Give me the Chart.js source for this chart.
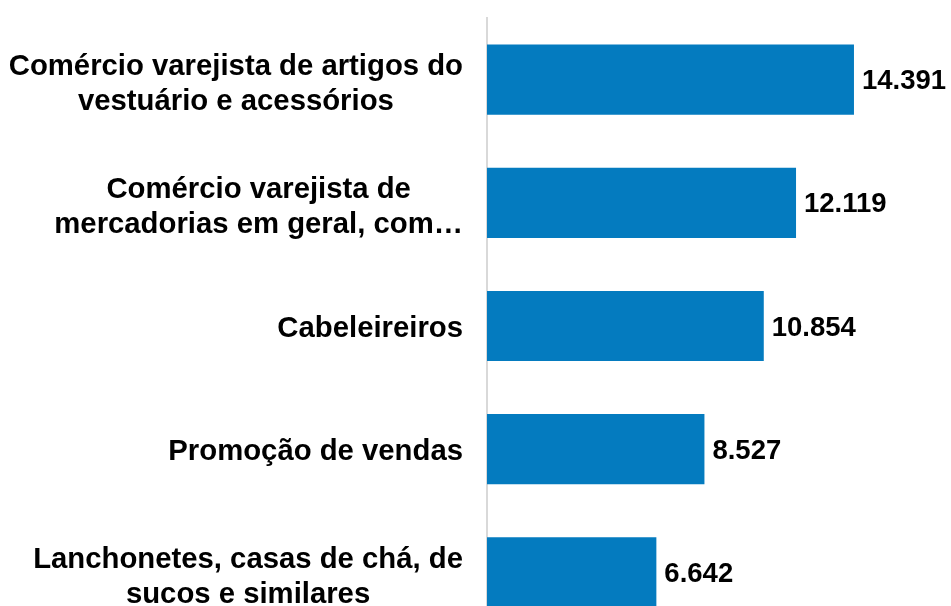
<!DOCTYPE html>
<html lang="pt-BR">
<head>
<meta charset="utf-8">
<title>Atividades</title>
<script src="https://cdn.jsdelivr.net/npm/chart.js@4/dist/chart.umd.min.js"></script>
<style>
    html, body { margin: 0; padding: 0; background: #fff; overflow: hidden; }
    #wrap { width: 951px; height: 640px; }
</style>
</head>
<body>
<div id="wrap"><canvas id="barChart"></canvas></div>
<script>
// --- data ---
const categories = [
    ['Comércio varejista de artigos do', 'vestuário e acessórios'],
    ['Comércio varejista de', 'mercadorias em geral, com…'],
    ['Cabeleireiros'],
    ['Promoção de vendas'],
    ['Lanchonetes, casas de chá, de', 'sucos e similares']
];
const values = [14391, 12119, 10854, 8527, 6642];

const barColor = '#047bbf';
const fontFamily = '"Liberation Sans", Arial, sans-serif';

// 14391 -> "14.391"
function formatNumber(v) {
    return String(v).replace(/\B(?=(\d{3})+(?!\d))/g, '.');
}

// category labels: block right-aligned to the axis, lines centred in the block
const categoryLabels = {
    id: 'categoryLabels',
    afterDraw(chart) {
        const ctx = chart.ctx;
        const yScale = chart.scales.y;
        const right = chart.chartArea.left - 24;
        ctx.save();
        ctx.font = 'bold 29.3px ' + fontFamily;
        ctx.fillStyle = '#000';
        ctx.textAlign = 'center';
        ctx.textBaseline = 'middle';
        categories.forEach(function(lines, i) {
            const yc = yScale.getPixelForValue(i);
            const widest = Math.max.apply(null, lines.map(l => ctx.measureText(l).width));
            const xc = right - widest / 2;
            const shift = lines.length > 1 ? 5 : 3;
            lines.forEach(function(line, j) {
                const y = yc + (j - (lines.length - 1) / 2) * 35 + shift;
                ctx.fillText(line, xc, y);
            });
        });
        ctx.restore();
    }
};

// value labels at the end of each bar
const valueLabels = {
    id: 'valueLabels',
    afterDatasetsDraw(chart) {
        const ctx = chart.ctx;
        const meta = chart.getDatasetMeta(0);
        ctx.save();
        ctx.font = 'bold 27.5px ' + fontFamily;
        ctx.fillStyle = '#000';
        ctx.textAlign = 'left';
        ctx.textBaseline = 'middle';
        meta.data.forEach(function(bar, i) {
            ctx.fillText(formatNumber(values[i]), bar.x + 8, bar.y + 2);
        });
        ctx.restore();
    }
};

const ctx = document.getElementById('barChart').getContext('2d');
new Chart(ctx, {
    type: 'bar',
    data: {
        labels: categories,
        datasets: [{
            data: values,
            backgroundColor: barColor,
            borderWidth: 0,
            categoryPercentage: 1,
            barPercentage: 0.57
        }]
    },
    options: {
        indexAxis: 'y',
        responsive: true,
        maintainAspectRatio: false,
        animation: false,
        layout: {
            padding: { top: 18, right: 5, bottom: 6, left: 0 }
        },
        plugins: {
            legend: { display: false },
            tooltip: { enabled: false }
        },
        scales: {
            x: {
                display: false,
                min: 0,
                max: 18000
            },
            y: {
                grid: { display: false },
                border: { display: true, color: '#d9d9d9', width: 2 },
                ticks: { display: false },
                afterFit: function(scale) {
                    scale.width = 487;
                }
            }
        }
    },
    plugins: [categoryLabels, valueLabels]
});
</script>
</body>
</html>
